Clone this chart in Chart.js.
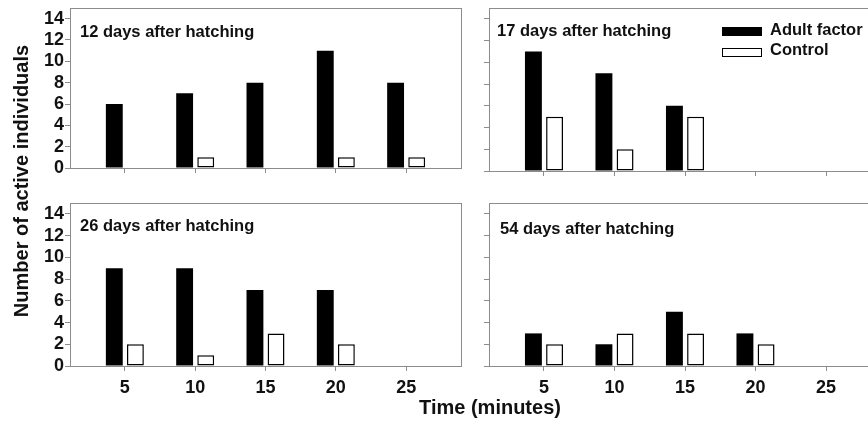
<!DOCTYPE html>
<html>
<head>
<meta charset="utf-8">
<script src="https://cdn.jsdelivr.net/npm/chart.js@4.4.0/dist/chart.umd.min.js"></script>
<style>
  body { margin: 0; background: #fff; overflow: hidden; font-family: "Liberation Sans", Arial, sans-serif; }
  #wrap { position: relative; width: 868px; height: 425px; overflow: hidden; }
  canvas { position: absolute; }
  .txt { position: absolute; font-weight: bold; color: #111; white-space: nowrap; }
  .panelLbl { font-size: 16.5px; line-height: 16.5px; }
  .axisTitle { font-size: 20px; line-height: 20px; width: 300px; text-align: center; }
  .key { position: absolute; width: 40px; height: 9px; box-sizing: border-box; border: 1.5px solid #000; }
</style>
</head>
<body>
<div id="wrap">
  <canvas id="p12"></canvas>
  <canvas id="p17"></canvas>
  <canvas id="p26"></canvas>
  <canvas id="p54"></canvas>

  <div class="txt panelLbl" id="t12" style="left:80px; top:23px;"></div>
  <div class="txt panelLbl" id="t17" style="left:497px; top:22px;"></div>
  <div class="txt panelLbl" id="t26" style="left:80px; top:217px;"></div>
  <div class="txt panelLbl" id="t54" style="left:500px; top:220px;"></div>

  <div class="key" style="left:722px; top:27px; background:#000;"></div>
  <div class="txt panelLbl" id="legA" style="left:770px; top:21px;"></div>
  <div class="key" style="left:722px; top:48px; background:#fff;"></div>
  <div class="txt panelLbl" id="legC" style="left:770px; top:41px;"></div>

  <div class="txt axisTitle" id="yTitle" style="left:-129px; top:171px; transform: rotate(-90deg);"></div>
  <div class="txt axisTitle" id="xTitle" style="left:340px; top:397px;"></div>
</div>
<script>
const times = [5, 10, 15, 20, 25];
const yTicks = [0, 2, 4, 6, 8, 10, 12, 14];
const seriesNames = ['Adult factor', 'Control'];
const panelTitles = ['12 days after hatching', '17 days after hatching', '26 days after hatching', '54 days after hatching'];

// number of active individuals at each time, one pair per age
const adult12 = [6, 7, 8, 11, 8];
const control12 = [0, 1, 0, 1, 1];
const adult17 = [11, 9, 6, null, null];
const control17 = [5, 2, 5, null, null];
const adult26 = [9, 9, 7, 7, null];
const control26 = [2, 1, 3, 2, null];
const adult54 = [3, 2, 5, 3, null];
const control54 = [2, 3, 3, 2, null];

const xTitleText = 'Time (minutes)';
const yTitleText = 'Number of active individuals';

Chart.defaults.font.family = '"Liberation Sans", Arial, sans-serif';

// draw a thin grey frame around each panel
const panelBox = {
  id: 'panelBox',
  beforeDatasetsDraw(chart) {
    const { ctx, chartArea: a } = chart;
    ctx.save();
    ctx.strokeStyle = '#8c8c8c';
    ctx.lineWidth = 1;
    ctx.strokeRect(Math.round(a.left) + 0.5, Math.round(a.top) + 0.5,
      Math.round(a.right - a.left), Math.round(a.bottom - a.top));
    ctx.restore();
  }
};

function toPoints(vals) {
  return times.map((t, i) => ({ x: t, y: vals[i] }));
}

function makePanel(id, adult, control, area, showY, showX) {
  const [L, T, R, B] = area;
  const yw = showY ? 70 : 20;
  const xh = showX ? 40 : 8;
  const canvas = document.getElementById(id);
  canvas.width = (R - L) + yw + 2;
  canvas.height = (B - T) + 2 + xh;
  canvas.style.left = (L - yw) + 'px';
  canvas.style.top = (T - 2) + 'px';

  new Chart(canvas, {
    type: 'bar',
    data: {
      datasets: [{
        label: seriesNames[0],
        data: toPoints(adult),
        backgroundColor: '#000',
        borderWidth: 0,
        barPercentage: 0.8,
        categoryPercentage: 0.6
      }, {
        label: seriesNames[1],
        data: toPoints(control),
        backgroundColor: '#fff',
        borderColor: '#000',
        borderWidth: 1.5,
        borderSkipped: false,
        barPercentage: 0.8,
        categoryPercentage: 0.6
      }]
    },
    options: {
      responsive: false,
      animation: false,
      devicePixelRatio: 1,
      layout: { padding: { top: 2, right: 2, left: 0, bottom: 0 } },
      plugins: { legend: { display: false }, tooltip: { enabled: false } },
      scales: {
        x: {
          type: 'linear',
          offset: false,
          min: 1.1,
          max: 28.9,
          afterBuildTicks: s => { s.ticks = times.map(v => ({ value: v })); },
          afterFit: s => { s.height = xh; s.paddingLeft = 0; s.paddingRight = 0; },
          grid: { offset: false, drawOnChartArea: false, tickLength: 5, color: '#8c8c8c' },
          border: { display: false },
          ticks: { display: showX, autoSkip: false, padding: 6, color: '#111', font: { size: 18, weight: 'bold' } }
        },
        y: {
          min: 0,
          max: 15,
          afterBuildTicks: s => { s.ticks = yTicks.map(v => ({ value: v })); },
          afterFit: s => { s.width = yw; s.paddingTop = 0; s.paddingBottom = 0; },
          grid: { drawOnChartArea: false, tickLength: 5, color: '#8c8c8c' },
          border: { display: false },
          ticks: { display: showY, autoSkip: false, padding: 1, color: '#111', font: { size: 18, weight: 'bold' } }
        }
      }
    },
    plugins: [panelBox]
  });
}

makePanel('p12', adult12, control12, [70, 8, 461, 168], true, false);
makePanel('p17', adult17, control17, [489, 8, 881, 171], false, false);
makePanel('p26', adult26, control26, [70, 203, 461, 366], true, true);
makePanel('p54', adult54, control54, [489, 203, 881, 366], false, true);

document.getElementById('t12').textContent = panelTitles[0];
document.getElementById('t17').textContent = panelTitles[1];
document.getElementById('t26').textContent = panelTitles[2];
document.getElementById('t54').textContent = panelTitles[3];
document.getElementById('legA').textContent = seriesNames[0];
document.getElementById('legC').textContent = seriesNames[1];
document.getElementById('xTitle').textContent = xTitleText;
document.getElementById('yTitle').textContent = yTitleText;
</script>
</body>
</html>
